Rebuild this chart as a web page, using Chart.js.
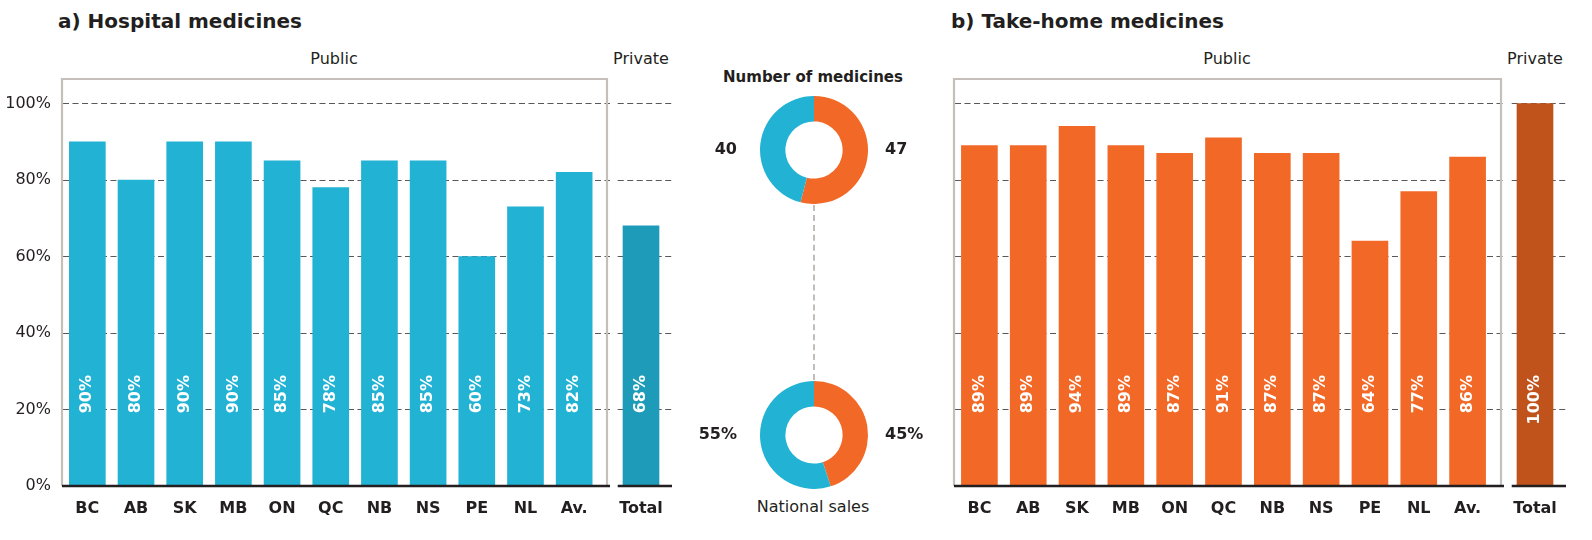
<!DOCTYPE html>
<html>
<head>
<meta charset="utf-8">
<script src="https://cdn.jsdelivr.net/npm/chart.js@4.4.1/dist/chart.umd.min.js"></script>
<style>
body{margin:0;width:1592px;height:540px;background:#fff;position:relative;overflow:hidden;font-family:"DejaVu Sans",sans-serif;color:#231f20}
canvas{position:absolute}
.txt{position:absolute;white-space:nowrap;line-height:20px}
.title{font-weight:bold;font-size:20px;top:11px}
.group{font-size:16px;top:49px;transform:translateX(-50%)}
.mid{font-size:16px;transform:translateX(-50%)}
.vline{position:absolute;left:813px;top:205px;height:175px;border-left:2px dashed #c2bdb9}
</style>
</head>
<body>
<div class="txt title" style="left:58px">a) Hospital medicines</div>
<div class="txt title" style="left:951px">b) Take-home medicines</div>
<div class="txt group" style="left:334px">Public</div>
<div class="txt group" style="left:641px">Private</div>
<div class="txt group" style="left:1227px">Public</div>
<div class="txt group" style="left:1535px">Private</div>
<div class="txt mid" style="left:813px;top:67px;font-weight:bold;font-size:15px">Number of medicines</div>
<div class="txt mid" style="left:813px;top:497px">National sales</div>
<div class="vline"></div>

<canvas id="hospPublic" width="610" height="540" style="left:0;top:0"></canvas>
<canvas id="hospPrivate" width="62" height="540" style="left:610px;top:0"></canvas>
<canvas id="homePublic" width="560" height="540" style="left:944px;top:0"></canvas>
<canvas id="homePrivate" width="62" height="540" style="left:1504px;top:0"></canvas>
<canvas id="donutCount" width="240" height="108" style="left:694px;top:96px"></canvas>
<canvas id="donutSales" width="240" height="108" style="left:694px;top:381px"></canvas>

<script>
// values
var provinces = ['BC','AB','SK','MB','ON','QC','NB','NS','PE','NL','Av.'];
var privateLabels = ['Total'];
var hospitalPublic = [90,80,90,90,85,78,85,85,60,73,82];
var hospitalPrivate = [68];
var takeHomePublic = [89,89,94,89,87,91,87,87,64,77,86];
var takeHomePrivate = [100];
var yTicks = [0,20,40,60,80,100];
// [take-home (orange), hospital (blue)]
var medicineCounts = [47,40];
var salesShares = [45,55];

var BLUE = '#22b2d4', BLUE_DARK = '#1e9bb8', ORANGE = '#f26826', ORANGE_DARK = '#c0521b';
var INK = '#231f20';
var FONT = '"DejaVu Sans", sans-serif';

var framePlugin = {
  id:'frame',
  beforeDatasetsDraw:function(chart){
    var a = chart.chartArea, y = chart.scales.y, ctx = chart.ctx;
    ctx.save();
    ctx.strokeStyle = '#58595b'; ctx.lineWidth = 1.2; ctx.setLineDash([6,3.5]);
    yTicks.forEach(function(v){
      if(v === 0) return;
      var py = Math.round(y.getPixelForValue(v)) + 0.5;
      ctx.beginPath(); ctx.moveTo(a.left, py); ctx.lineTo(chart.width, py); ctx.stroke();
    });
    ctx.restore();
  },
  afterDatasetsDraw:function(chart, args, o){
    var a = chart.chartArea, y = chart.scales.y, ctx = chart.ctx;
    ctx.save();
    if(o.box){
      ctx.strokeStyle = '#c4bfbb'; ctx.lineWidth = 2.2;
      var l = a.left + o.boxLeft, r = a.right + o.boxRight;
      ctx.beginPath(); ctx.moveTo(l, a.bottom); ctx.lineTo(l, a.top); ctx.lineTo(r, a.top); ctx.lineTo(r, a.bottom); ctx.stroke();
    }
    ctx.strokeStyle = INK; ctx.lineWidth = 2.4;
    ctx.beginPath(); ctx.moveTo(a.left + (o.box ? o.boxLeft : 0), a.bottom); ctx.lineTo(chart.width, a.bottom); ctx.stroke();

    ctx.fillStyle = '#fff'; ctx.font = 'bold 16px ' + FONT;
    ctx.textAlign = 'right'; ctx.textBaseline = 'middle';
    var ds = chart.data.datasets[0];
    chart.getDatasetMeta(0).data.forEach(function(bar, i){
      ctx.save();
      ctx.translate(bar.x, y.getPixelForValue(29));
      ctx.rotate(-Math.PI/2);
      ctx.fillText(ds.data[i] + '%', 0, 0);
      ctx.restore();
    });
    ctx.restore();
  }
};

function barChart(id, labels, values, color, frame, showY, padL, padR){
  return new Chart(document.getElementById(id), {
    type:'bar',
    data:{labels:labels, datasets:[{data:values, backgroundColor:color, barThickness:36}]},
    options:{
      responsive:false, animation:false,
      layout:{padding:{top:79, left:padL, right:padR, bottom:0}},
      plugins:{legend:{display:false}, tooltip:{enabled:false}, frame:frame},
      scales:{
        x:{
          grid:{display:false, drawTicks:false}, border:{display:false},
          ticks:{color:INK, padding:13, autoSkip:false, maxRotation:0, font:{family:'DejaVu Sans', size:16, weight:'bold'}},
          afterFit:function(s){ s.height = 54; }
        },
        y:{
          display:showY, min:0, max:106.4,
          grid:{display:false, drawTicks:false}, border:{display:false},
          ticks:{color:INK, padding:12, font:{family:'DejaVu Sans', size:16}, callback:function(v){ return v + '%'; }},
          afterBuildTicks:function(s){ s.ticks = yTicks.map(function(v){ return {value:v}; }); },
          afterFit:function(s){ s.width = showY ? 63 : 0; }
        }
      }
    },
    plugins:[framePlugin]
  });
}

var sideLabels = {
  id:'sideLabels',
  afterDraw:function(chart, args, o){
    var arc = chart.getDatasetMeta(0).data[0], ctx = chart.ctx, d = chart.data.datasets[0].data;
    ctx.save();
    ctx.fillStyle = INK; ctx.font = 'bold 16px ' + FONT; ctx.textBaseline = 'middle';
    ctx.textAlign = 'left'; ctx.fillText(d[0] + o.suffix, arc.x + 71, arc.y);
    ctx.textAlign = 'right'; ctx.fillText(d[1] + o.suffix, arc.x - 77, arc.y);
    ctx.restore();
  }
};

function donut(id, values, suffix){
  return new Chart(document.getElementById(id), {
    type:'doughnut',
    data:{labels:['Take-home','Hospital'], datasets:[{data:values, backgroundColor:[ORANGE, BLUE], borderWidth:0}]},
    options:{
      responsive:false, animation:false, cutout:'53%',
      plugins:{legend:{display:false}, tooltip:{enabled:false}, sideLabels:{suffix:suffix}}
    },
    plugins:[sideLabels]
  });
}

barChart('hospPublic', provinces, hospitalPublic, BLUE, {box:true, boxLeft:-1, boxRight:8.5}, true, 0, 11.5);
barChart('hospPrivate', privateLabels, hospitalPrivate, BLUE_DARK, {box:false}, false, 0, 0);
barChart('homePublic', provinces, takeHomePublic, ORANGE, {box:true, boxLeft:-1, boxRight:9}, false, 11, 12);
barChart('homePrivate', privateLabels, takeHomePrivate, ORANGE_DARK, {box:false}, false, 0, 0);
donut('donutCount', medicineCounts, '');
donut('donutSales', salesShares, '%');
</script>
</body>
</html>
